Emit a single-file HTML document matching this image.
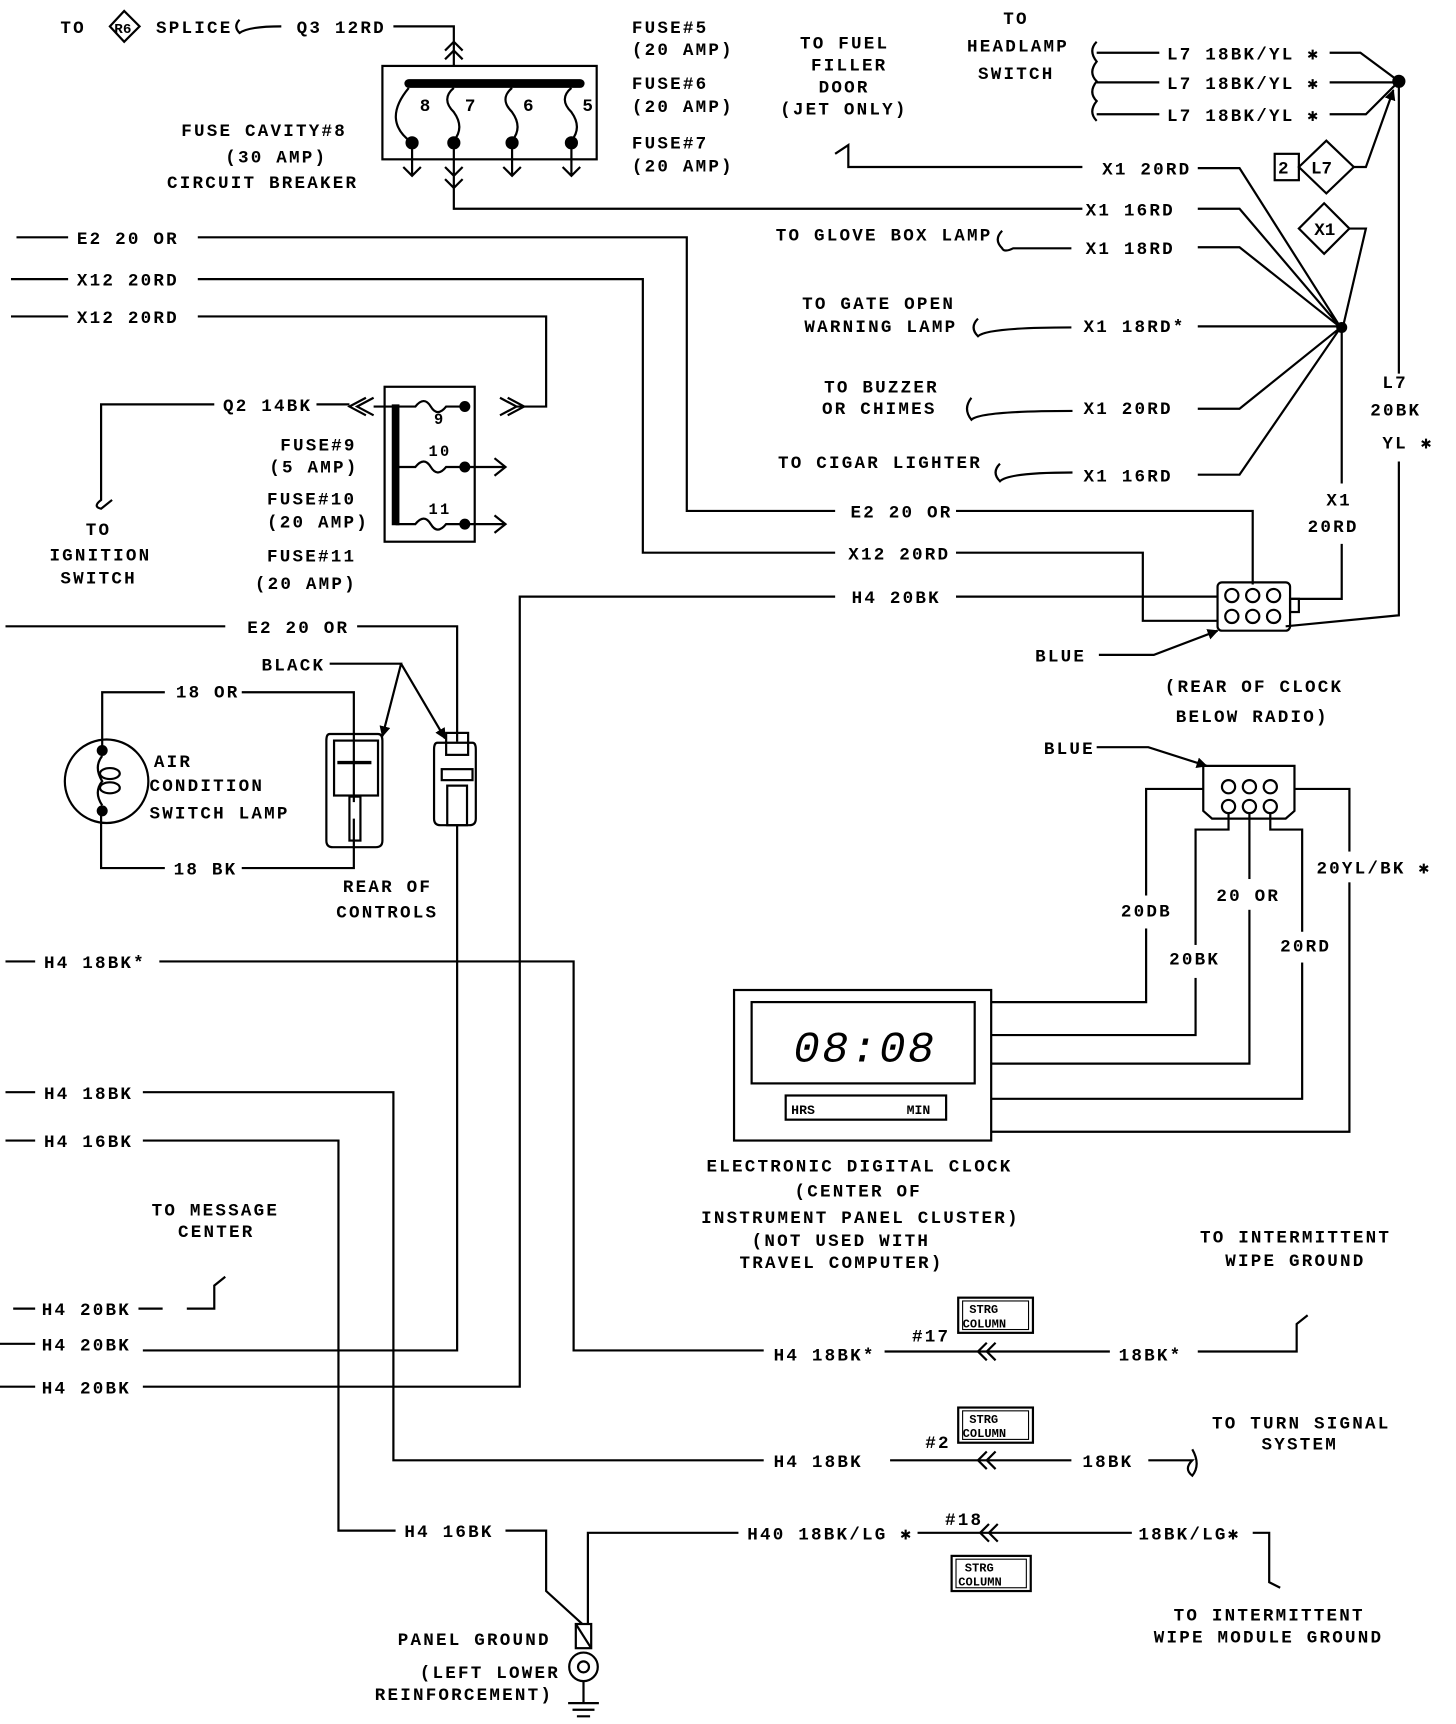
<!DOCTYPE html>
<html><head><meta charset="utf-8"><style>
html,body{margin:0;padding:0;background:#fff;}
svg{display:block;}
text{font-family:"Liberation Mono",monospace;font-weight:bold;font-size:16px;letter-spacing:2px;fill:#000;}
.w{fill:none;stroke:#000;stroke-width:2;}
</style></head><body>
<svg width="1456" height="1724" viewBox="0 0 1325 1569" preserveAspectRatio="none" xmlns="http://www.w3.org/2000/svg">
<defs><marker id="a" markerWidth="10" markerHeight="10" refX="9" refY="5" orient="auto" markerUnits="userSpaceOnUse"><path d="M0,0 L10,5 L0,10 Z" fill="#000"/></marker></defs>
<!-- top left -->
<text x="55" y="30">TO</text>
<path class="w" d="M100,24 L113,10 L127,24 L113,38 Z"/><text x="104" y="30" style="font-size:13px;letter-spacing:0">R6</text>
<text x="142" y="30">SPLICE</text>
<path class="w" d="M218,18 q-6,6 0,12 q8,-6 38,-6"/>
<text x="270" y="30">Q3 12RD</text>
<path class="w" d="M358,24 H413 V60"/>
<path class="w" d="M405,46 L413,38 L421,46 M405,54 L413,46 L421,54"/>
<rect class="w" x="348" y="60" width="195" height="85"/>
<line x1="372" y1="76" x2="528" y2="76" stroke="#000" stroke-width="8" stroke-linecap="round"/>
<text x="382" y="101">8</text><text x="423" y="101">7</text><text x="476" y="101">6</text><text x="530" y="101">5</text>
<path class="w" d="M372,80 q-25,30 3,50 M413,80 q-12,10 0,22 q10,14 0,26 M466,80 q-12,10 0,22 q10,14 0,26 M520,80 q-12,10 0,22 q10,14 0,26"/>
<g fill="#000"><circle cx="375" cy="130" r="6"/><circle cx="413" cy="130" r="6"/><circle cx="466" cy="130" r="6"/><circle cx="520" cy="130" r="6"/></g>
<path class="w" d="M375,130 V160 M367,152 L375,160 L383,152 M466,130 V160 M458,152 L466,160 L474,152 M520,130 V160 M512,152 L520,160 L528,152 M413,130 V190 H985 M405,152 L413,160 L421,152 M405,163 L413,171 L421,163"/>
<text x="165" y="124">FUSE CAVITY#8</text><text x="205" y="148">(30 AMP)</text><text x="152" y="171">CIRCUIT BREAKER</text>
<text x="575" y="30">FUSE#5</text><text x="575" y="50">(20 AMP)</text>
<text x="575" y="81">FUSE#6</text><text x="575" y="102">(20 AMP)</text>
<text x="575" y="135">FUSE#7</text><text x="575" y="156">(20 AMP)</text>
<text x="728" y="44">TO FUEL</text><text x="738" y="64">FILLER</text><text x="745" y="84">DOOR</text><text x="710" y="104">(JET ONLY)</text>
<path class="w" d="M760,140 l12,-8 v20 H985"/>
<text x="913" y="22">TO</text><text x="880" y="47">HEADLAMP</text><text x="890" y="72">SWITCH</text>
<path class="w" d="M998,38 q-8,8 0,18 q-8,10 0,18 q-8,10 0,18 q-8,10 0,18"/>
<path class="w" d="M998,48 H1055 M998,75 H1055 M998,104 H1055"/>
<text x="1062" y="54">L7 18BK/YL ✱</text><text x="1062" y="81">L7 18BK/YL ✱</text><text x="1062" y="110">L7 18BK/YL ✱</text>
<path class="w" d="M1210,48 H1238 L1273,74 M1210,75 H1273 M1210,104 H1243 L1273,74"/>
<circle cx="1273" cy="74" r="6" fill="#000"/>
<path class="w" d="M1273,74 V340"/>
<rect class="w" x="1160" y="140" width="22" height="24"/><text x="1163" y="158" style="letter-spacing:0">2</text>
<path class="w" d="M1182,152 L1207,128 L1232,152 L1207,176 Z"/><text x="1193" y="158" style="letter-spacing:0">L7</text>
<path class="w" d="M1232,152 H1243 L1268,82" marker-end="url(#a)"/>
<path class="w" d="M1182,208 L1205,185 L1228,208 L1205,231 Z"/><text x="1196" y="214" style="letter-spacing:0">X1</text>
<path class="w" d="M1228,208 H1243 L1222,298"/>
<!-- X1 fan -->
<text x="1003" y="159">X1 20RD</text><text x="988" y="196">X1 16RD</text>
<text x="706" y="219">TO GLOVE BOX LAMP</text><text x="988" y="231">X1 18RD</text>
<text x="730" y="281">TO GATE OPEN</text><text x="732" y="302">WARNING LAMP</text><text x="986" y="302">X1 18RD*</text>
<text x="750" y="357">TO BUZZER</text><text x="748" y="377">OR CHIMES</text><text x="986" y="377">X1 20RD</text>
<text x="708" y="426">TO CIGAR LIGHTER</text><text x="986" y="438">X1 16RD</text>
<path class="w" d="M1090,153 H1128 L1220,298 M1090,190 H1128 L1220,298 M1090,225 H1128 L1220,298 M1090,297 H1220 M1090,372 H1128 L1220,298 M1090,432 H1128 L1220,298"/>
<path class="w" d="M912,210 q-8,8 0,16 q2,4 10,0 H975 M890,290 q-8,8 0,16 q8,-8 85,-8 M884,362 q-8,10 0,20 q8,-8 92,-8 M910,422 q-8,8 0,16 q8,-8 66,-8"/>
<circle cx="1221" cy="298" r="5" fill="#000"/>
<path class="w" d="M1221,298 V440 M1221,495 V545 H1175"/>
<text x="1258" y="353">L7</text><text x="1247" y="378">20BK</text><text x="1258" y="408">YL ✱</text>
<path class="w" d="M1273,420 V560 L1170,570"/>
<text x="1207" y="460">X1</text><text x="1190" y="484">20RD</text>
<!-- left top wires -->
<path class="w" d="M15,216 H62 M180,216 H625 V465 H760 M870,465 H1140 V532"/>
<text x="70" y="222">E2 20 OR</text>
<path class="w" d="M10,254 H62 M180,254 H585 V503 H760 M870,503 H1040 V565 H1108"/>
<text x="70" y="260">X12 20RD</text>
<path class="w" d="M10,288 H62 M180,288 H497 V370 H470"/>
<text x="70" y="294">X12 20RD</text>
<path class="w" d="M455,362 L470,370 L455,378 M462,362 L477,370 L462,378"/>
<text x="774" y="471">E2 20 OR</text><text x="772" y="509">X12 20RD</text><text x="775" y="549">H4 20BK</text>
<path class="w" d="M760,543 H473 V1262 H130 M870,543 H1108"/>
<!-- connector top right -->
<rect class="w" x="1108" y="530" width="66" height="44" rx="4"/>
<rect class="w" x="1174" y="545" width="8" height="12"/>
<g class="w"><circle cx="1121" cy="542" r="6"/><circle cx="1140" cy="542" r="6"/><circle cx="1159" cy="542" r="6"/><circle cx="1121" cy="561" r="6"/><circle cx="1140" cy="561" r="6"/><circle cx="1159" cy="561" r="6"/></g>
<text x="942" y="602">BLUE</text>
<path class="w" d="M1000,596 H1050 L1108,574" marker-end="url(#a)"/>
<text x="1060" y="630">(REAR OF CLOCK</text><text x="1070" y="657">BELOW RADIO)</text>
<!-- fuse block 2 -->
<text x="203" y="374">Q2 14BK</text>
<path class="w" d="M195,368 H92 V455 q-8,6 0,8 l10,-8 M288,368 H318"/>
<path class="w" d="M333,362 L318,370 L333,378 M340,362 L325,370 L340,378 M340,370 H360"/>
<rect class="w" x="350" y="352" width="82" height="141"/>
<line x1="360" y1="368" x2="360" y2="478" stroke="#000" stroke-width="7"/>
<path class="w" d="M360,370 H378 q8,-10 14,0 q6,10 14,0 H425 M360,425 H378 q8,-10 14,0 q6,10 14,0 H460 M360,477 H378 q8,-10 14,0 q6,10 14,0 H460"/>
<path class="w" d="M450,417 L460,425 L450,433 M450,469 L460,477 L450,485"/>
<g fill="#000"><circle cx="423" cy="370" r="5"/><circle cx="423" cy="425" r="5"/><circle cx="423" cy="477" r="5"/></g>
<text x="395" y="386" style="font-size:14px">9</text><text x="390" y="415" style="font-size:14px">10</text><text x="390" y="468" style="font-size:14px">11</text>
<text x="255" y="410">FUSE#9</text><text x="245" y="430">(5 AMP)</text><text x="243" y="459">FUSE#10</text><text x="243" y="480">(20 AMP)</text><text x="243" y="511">FUSE#11</text><text x="232" y="536">(20 AMP)</text>
<text x="78" y="487">TO</text><text x="45" y="510">IGNITION</text><text x="55" y="531">SWITCH</text>
<!-- AC lamp -->
<path class="w" d="M5,570 H205 M325,570 H416 V675"/>
<text x="225" y="576">E2 20 OR</text>
<text x="238" y="610">BLACK</text>
<path class="w" d="M300,604 H365 L348,670" marker-end="url(#a)"/>
<path class="w" d="M365,604 L405,672" marker-end="url(#a)"/>
<text x="160" y="635">18 OR</text><text x="158" y="796">18 BK</text>
<path class="w" d="M150,630 H93 V680 M92,738 V790 H150 M220,630 H322 V730 M220,790 H322 V745"/>
<circle class="w" cx="97" cy="711" r="38"/>
<g fill="#000"><circle cx="93" cy="683" r="5"/><circle cx="93" cy="738" r="5"/></g>
<path class="w" d="M93,688 q-8,10 0,23 q-8,10 0,22"/><ellipse class="w" cx="100" cy="704" rx="9" ry="5"/><ellipse class="w" cx="100" cy="717" rx="9" ry="5"/>
<text x="140" y="698">AIR</text><text x="136" y="720">CONDITION</text><text x="136" y="745">SWITCH LAMP</text>
<path class="w" d="M300,668 q-3,0 -3,6 V765 q0,6 6,6 H342 q6,0 6,-6 V674 q0,-6 -4,-6 Z"/>
<rect class="w" x="304" y="674" width="40" height="50"/><line x1="307" y1="694" x2="338" y2="694" stroke="#000" stroke-width="3"/>
<rect class="w" x="318" y="725" width="10" height="40"/>
<path class="w" d="M398,676 q-3,0 -3,6 V745 q0,6 6,6 H427 q6,0 6,-6 V682 q0,-6 -3,-6 Z"/>
<rect class="w" x="406" y="667" width="20" height="20"/><rect class="w" x="402" y="700" width="28" height="10"/><rect class="w" x="407" y="715" width="18" height="36"/>
<path class="w" d="M416,751 V1229 H130"/>
<text x="312" y="812">REAR OF</text><text x="306" y="835">CONTROLS</text>
<!-- clock connector -->
<text x="950" y="686">BLUE</text>
<path class="w" d="M998,680 H1045 L1098,697" marker-end="url(#a)"/>
<path class="w" d="M1095,697 H1178 V738 L1170,745 H1103 L1095,738 Z"/>
<g class="w"><circle cx="1118" cy="716" r="6"/><circle cx="1137" cy="716" r="6"/><circle cx="1156" cy="716" r="6"/><circle cx="1118" cy="734" r="6"/><circle cx="1137" cy="734" r="6"/><circle cx="1156" cy="734" r="6"/></g>
<path class="w" d="M1095,718 H1043 V912 H902 M1118,740 V755 H1088 V942 H902 M1137,740 V968 H902 M1156,740 V755 H1185 V1000 H902 M1178,718 H1228 V1030 H902"/>
<rect x="1040" y="815" width="30" height="30" fill="#fff"/>
<rect x="1060" y="860" width="50" height="30" fill="#fff"/>
<rect x="1103" y="800" width="68" height="28" fill="#fff"/>
<rect x="1160" y="848" width="55" height="28" fill="#fff"/>
<rect x="1195" y="775" width="110" height="28" fill="#fff"/>
<text x="1198" y="795">20YL/BK ✱</text><text x="1107" y="820">20 OR</text><text x="1020" y="834">20DB</text><text x="1064" y="878">20BK</text><text x="1165" y="866">20RD</text>
<!-- clock -->
<rect class="w" x="668" y="901" width="234" height="137" stroke-width="3"/>
<rect class="w" x="684" y="912" width="203" height="74" stroke-width="3"/>
<text x="722" y="966" style="font-size:40px;font-style:italic;letter-spacing:2px;font-weight:normal">08:08</text>
<rect class="w" x="715" y="997" width="146" height="22" stroke-width="3"/>
<text x="720" y="1014" style="font-size:12px;letter-spacing:0">HRS</text><text x="825" y="1014" style="font-size:12px;letter-spacing:0">MIN</text>
<text x="643" y="1066">ELECTRONIC DIGITAL CLOCK</text><text x="723" y="1089">(CENTER OF</text>
<text x="638" y="1113">INSTRUMENT PANEL CLUSTER)</text><text x="684" y="1134">(NOT USED WITH</text><text x="673" y="1154">TRAVEL COMPUTER)</text>
<!-- lower left wires -->
<text x="40" y="881">H4 18BK*</text>
<path class="w" d="M5,875 H32 M145,875 H522 V1229 H695"/>
<text x="40" y="1000">H4 18BK</text>
<path class="w" d="M5,994 H32 M130,994 H358 V1329 H695"/>
<text x="40" y="1044">H4 16BK</text>
<path class="w" d="M5,1038 H32 M130,1038 H308 V1393 H360"/>
<text x="138" y="1106">TO MESSAGE</text><text x="162" y="1126">CENTER</text>
<path class="w" d="M12,1191 H32 M126,1191 H148 M170,1191 H195 V1170 l10,-8 M0,1223 H32 M0,1262 H32"/>
<text x="38" y="1197">H4 20BK</text><text x="38" y="1229">H4 20BK</text><text x="38" y="1268">H4 20BK</text>
<!-- right lower -->
<text x="1092" y="1131">TO INTERMITTENT</text><text x="1115" y="1152">WIPE GROUND</text>
<text x="704" y="1238">H4 18BK*</text><text x="1018" y="1238">18BK*</text><text x="830" y="1221">#17</text>
<path class="w" d="M805,1230 H1010 M1090,1230 H1180 V1205 l10,-8"/>
<path class="w" d="M898,1222 L890,1230 L898,1238 M906,1222 L898,1230 L906,1238"/>
<rect class="w" x="872" y="1181" width="68" height="32"/><rect x="876" y="1184" width="60" height="26" fill="#fff" stroke="#000"/>
<text x="882" y="1195" style="font-size:11px;letter-spacing:0">STRG</text><text x="876" y="1208" style="font-size:11px;letter-spacing:0">COLUMN</text>
<text x="1103" y="1300">TO TURN SIGNAL</text><text x="1148" y="1319">SYSTEM</text>
<text x="842" y="1318">#2</text><text x="704" y="1335">H4 18BK</text><text x="985" y="1335">18BK</text>
<path class="w" d="M810,1329 H975 M1045,1329 H1085 q-8,8 0,14 q8,-10 0,-24"/>
<path class="w" d="M898,1321 L890,1329 L898,1337 M906,1321 L898,1329 L906,1337"/>
<rect class="w" x="872" y="1281" width="68" height="32"/><rect x="876" y="1284" width="60" height="26" fill="#fff" stroke="#000"/>
<text x="882" y="1295" style="font-size:11px;letter-spacing:0">STRG</text><text x="876" y="1308" style="font-size:11px;letter-spacing:0">COLUMN</text>
<text x="368" y="1399">H4 16BK</text><text x="680" y="1401">H40 18BK/LG ✱</text><text x="860" y="1388">#18</text><text x="1036" y="1401">18BK/LG✱</text>
<path class="w" d="M460,1393 H497 V1448 L530,1478 M672,1395 H535 V1478 M835,1395 H1030 M1140,1395 H1155 V1440 l10,5"/>
<path class="w" d="M900,1387 L892,1395 L900,1403 M908,1387 L900,1395 L908,1403"/>
<rect class="w" x="866" y="1416" width="72" height="32"/><rect x="870" y="1419" width="64" height="26" fill="#fff" stroke="#000"/>
<text x="878" y="1430" style="font-size:11px;letter-spacing:0">STRG</text><text x="872" y="1443" style="font-size:11px;letter-spacing:0">COLUMN</text>
<text x="1068" y="1475">TO INTERMITTENT</text><text x="1050" y="1495">WIPE MODULE GROUND</text>
<!-- ground -->
<rect class="w" x="524" y="1478" width="14" height="22"/><path class="w" d="M524,1478 L538,1500"/>
<circle class="w" cx="531" cy="1517" r="13"/><circle class="w" cx="531" cy="1517" r="5"/>
<path class="w" d="M531,1530 V1550 M517,1550 H545 M521,1556 H541 M525,1562 H537"/>
<text x="362" y="1497">PANEL GROUND</text><text x="382" y="1527">(LEFT LOWER</text><text x="341" y="1547">REINFORCEMENT)</text>
</svg>
</body></html>
